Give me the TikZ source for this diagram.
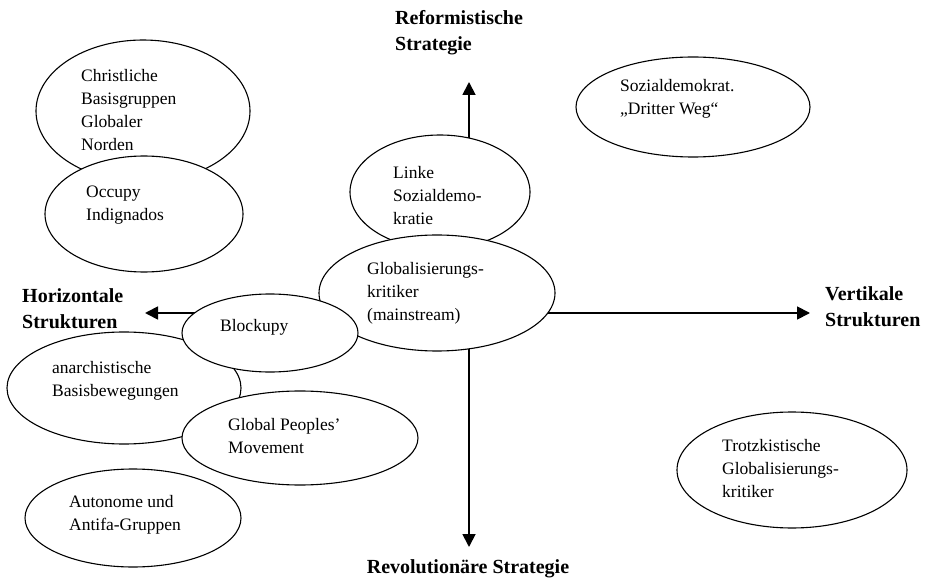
\documentclass[tikz,border=0pt]{standalone}
\usepackage{fontspec}
\setmainfont{Liberation Serif}
\usetikzlibrary{shapes.geometric,arrows.meta}
\begin{document}
\begin{tikzpicture}[x=1pt,y=-1pt,
  oval/.style={ellipse,draw=black,line width=1.1pt,fill=white,inner sep=0pt},
  txt/.style={align=left,anchor=west,inner sep=0pt,font=\fontsize{17.5}{23}\selectfont},
  axlabel/.style={align=left,inner sep=0pt,font=\fontsize{20}{26}\selectfont\bfseries},
  axis/.style={line width=1.8pt,-{Triangle[length=13pt,width=13pt]}}]
\useasboundingbox (0,0) rectangle (927,580);
% axes
\coordinate (c) at (469,313);
\coordinate (up) at (469,82);
\coordinate (down) at (469,547);
\coordinate (left) at (145,313);
\coordinate (right) at (810,313);
\draw[axis] (c) -- (up);
\draw[axis] (c) -- (down);
\draw[axis] (c) -- (left);
\draw[axis] (c) -- (right);
% axis labels
\node[axlabel,anchor=west] (lref) at (395,33) {Reformistische\\Strategie};
\node[axlabel,anchor=center] (lrev) at (468,569) {Revolutionäre Strategie};
\node[axlabel,anchor=west] (lhor) at (22,309) {Horizontale\\Strukturen};
\node[axlabel,anchor=west] (lver) at (825,307) {Vertikale\\Strukturen};
% ellipses (drawing order matters)
\node[oval,minimum width=214,minimum height=142] (chr) at (143,111) {};
\node[oval,minimum width=198,minimum height=116] (occ) at (144,214) {};
\node[oval,minimum width=180,minimum height=114] (lin) at (440,192) {};
\node[oval,minimum width=236,minimum height=116] (glo) at (437,293) {};
\node[oval,minimum width=234,minimum height=112] (ana) at (124,388) {};
\node[oval,minimum width=176,minimum height=78] (blo) at (270,333) {};
\node[oval,minimum width=236,minimum height=94] (gpm) at (300,438) {};
\node[oval,minimum width=216,minimum height=98] (aut) at (133,518) {};
\node[oval,minimum width=234,minimum height=100] (soz) at (693,107) {};
\node[oval,minimum width=230,minimum height=116] (tro) at (792,470) {};
% texts
\node[txt] (tchr) at (81,110) {Christliche\\Basisgruppen\\Globaler\\Norden};
\node[txt] (tocc) at (86,205) {Occupy\\Indignados};
\node[txt] (tlin) at (393,196) {Linke\\Sozialdemo-\\kratie};
\node[txt] (tglo) at (367,293) {Globalisierungs-\\kritiker\\(mainstream)};
\node[txt] (tblo) at (220,327) {Blockupy};
\node[txt] (tana) at (52,381) {anarchistische\\Basisbewegungen};
\node[txt] (tgpm) at (228,436) {Global Peoples’\\Movement};
\node[txt] (taut) at (69,515) {Autonome und\\Antifa-Gruppen};
\node[txt] (tsoz) at (620,99) {Sozialdemokrat.\\„Dritter Weg“};
\node[txt] (ttro) at (722,469) {Trotzkistische\\Globalisierungs-\\kritiker};
\end{tikzpicture}
\end{document}
